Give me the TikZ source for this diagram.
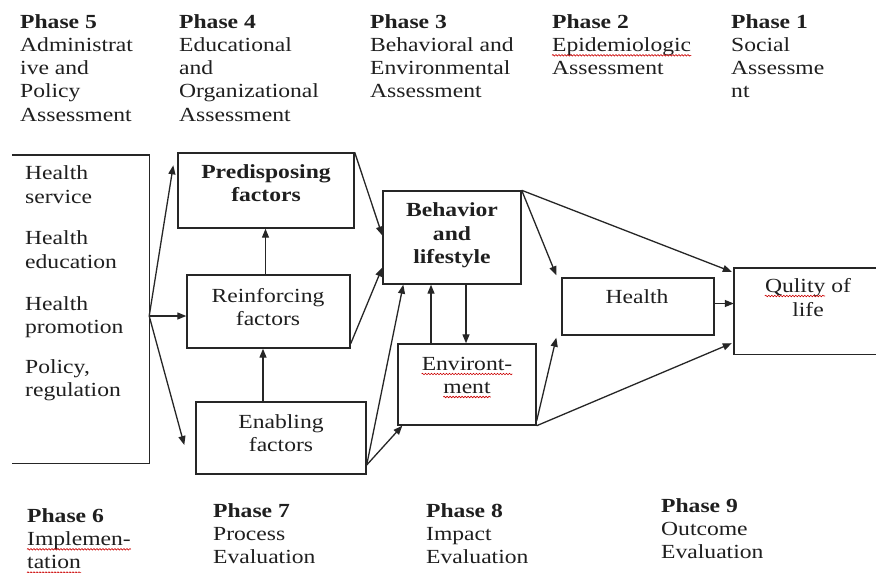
\documentclass[tikz,border=0pt]{standalone}
\usepackage{fontspec}
\setmainfont{Liberation Serif}[FakeStretch=1.18]
\usetikzlibrary{arrows.meta,fit,decorations.pathmorphing}
\newcommand\myfs{\fontsize{20}{23.3}\selectfont}
\begin{document}
\begin{tikzpicture}[x=1pt,y=-1pt,
  font=\myfs,
  bf/.style={font=\myfs\bfseries},
  txt/.style={anchor=base west,inner sep=0pt,text=black!88},
  ctxt/.style={anchor=base,inner sep=0pt,text=black!88},
  box/.style={draw=black!85,line width=1.4pt,inner sep=0pt},
  arr/.style={draw=black!85,line width=1.3pt,-{Triangle[length=9pt,width=7pt]}},
  squig/.style={draw=red!80!black,line width=0.6pt,decorate,decoration={snake,amplitude=0.8pt,segment length=3pt}}]
\useasboundingbox (0,0) rectangle (876,573);
\fill[white] (0,0) rectangle (876,573);
% ---- top phase texts
\node[txt,bf] (p5) at (20,28) {Phase 5};
\foreach \l [count=\i] in {Administrat,ive and,Policy,Assessment}
  \node[txt] (p5-\i) at (20,28+23.3*\i) {\l};
\node[txt,bf] (p4) at (179,28) {Phase 4};
\foreach \l [count=\i] in {Educational,and,Organizational,Assessment}
  \node[txt] (p4-\i) at (179,28+23.3*\i) {\l};
\node[txt,bf] (p3) at (370,28) {Phase 3};
\foreach \l [count=\i] in {Behavioral and,Environmental,Assessment}
  \node[txt] (p3-\i) at (370,28+23.3*\i) {\l};
\node[txt,bf] (p2) at (552,28) {Phase 2};
\foreach \l [count=\i] in {Epidemiologic,Assessment}
  \node[txt] (p2-\i) at (552,28+23.3*\i) {\l};
\node[txt,bf] (p1) at (731,28) {Phase 1};
\foreach \l [count=\i] in {Social,Assessme,nt}
  \node[txt] (p1-\i) at (731,28+23.3*\i) {\l};
% ---- bottom phase texts
\node[txt,bf] (p6) at (27,522) {Phase 6};
\foreach \l [count=\i] in {Implemen-,tation}
  \node[txt] (p6-\i) at (27,522+23.3*\i) {\l};
\node[txt,bf] (p7) at (213,517) {Phase 7};
\foreach \l [count=\i] in {Process,Evaluation}
  \node[txt] (p7-\i) at (213,517+23.3*\i) {\l};
\node[txt,bf] (p8) at (426,517) {Phase 8};
\foreach \l [count=\i] in {Impact,Evaluation}
  \node[txt] (p8-\i) at (426,517+23.3*\i) {\l};
\node[txt,bf] (p9) at (661,512) {Phase 9};
\foreach \l [count=\i] in {Outcome,Evaluation}
  \node[txt] (p9-\i) at (661,512+23.3*\i) {\l};
% ---- boxes
\node[inner sep=0pt,fit={(12,155) (149,463)}] (lb) {};
\draw[draw=black!85,line width=1.4pt] (lb.north west) -- (lb.north east) -- (lb.south east) -- (lb.south west);
\node[box,fit={(178,153) (354,228)}] (pre) {};
\node[box,fit={(187,275) (350,348)}] (rein) {};
\node[box,fit={(196,402) (366,474)}] (ena) {};
\node[box,fit={(383,191) (521,284)}] (beh) {};
\node[box,fit={(398,344) (536,425)}] (env) {};
\node[box,fit={(562,278) (714,335)}] (hea) {};
\node[inner sep=0pt,fit={(734,268) (876,354)}] (qol) {};
\draw[draw=black!85,line width=1.4pt] (qol.north east) -- (qol.north west) -- (qol.south west) -- (qol.south east);
% ---- box texts
\foreach \l [count=\i] in {Health,service,Health,education,Health,promotion,{Policy,},regulation}
  \node[txt] (lb-\i) at (25,{\i<3?179+24*(\i-1):(\i<5?244+24*(\i-3):(\i<7?310+23*(\i-5):373+23*(\i-7)))}) {\l};
\node[ctxt,bf] (pre-1) at (266,178) {Predisposing};
\node[ctxt,bf] (pre-2) at (266,201) {factors};
\node[ctxt] (rein-1) at (268,302) {Reinforcing};
\node[ctxt] (rein-2) at (268,325) {factors};
\node[ctxt] (ena-1) at (281,428) {Enabling};
\node[ctxt] (ena-2) at (281,451) {factors};
\node[ctxt,bf] (beh-1) at (452,216) {Behavior};
\node[ctxt,bf] (beh-2) at (452,240) {and};
\node[ctxt,bf] (beh-3) at (452,263) {lifestyle};
\node[ctxt] (env-1) at (467,370) {Environt-};
\node[ctxt] (env-2) at (467,393) {ment};
\node[ctxt] (hea-1) at (637,303) {Health};
\node[ctxt] (qol-1) at (808,292) {Qulity of};
\node[ctxt] (qol-2) at (808,316) {life};
% ---- spell-check squiggles
\draw[squig] ([yshift=-4pt]p2-1.base west) -- ([yshift=-4pt]p2-1.base east);
\draw[squig] ([yshift=-4pt]p6-1.base west) -- ([yshift=-4pt]p6-1.base east);
\draw[squig] ([yshift=-4pt]p6-2.base west) -- ([yshift=-4pt]p6-2.base east);
\draw[squig] ([yshift=-4pt]env-1.base west) -- ([yshift=-4pt]env-1.base east);
\draw[squig] ([yshift=-4pt]env-2.base west) -- ([yshift=-4pt]env-2.base east);
\draw[squig] ([yshift=-4pt]qol-1.base west) -- ([yshift=-4pt,xshift=-26pt]qol-1.base east);
% ---- connectors
\coordinate (fork) at (lb.east |- 0,316);
\draw[arr] (fork) -- ([xshift=-4pt,yshift=-13pt]pre.north west);
\draw[arr] (fork) -- (fork -| rein.west);
\draw[arr] (fork) -- ([xshift=-11pt,yshift=-7pt]ena.west);
\draw[arr] ([xshift=-3pt]rein.north) -- ([xshift=-3pt]rein.north |- pre.south);
\draw[arr] ([xshift=-18pt]ena.north) -- ([xshift=-18pt]ena.north |- rein.south);
\draw[arr] (pre.north east) -- ([yshift=2pt]beh.west);
\draw[arr] ([yshift=5pt]rein.south east) -- ([yshift=-30pt]beh.west);
\coordinate (es) at ([yshift=-27pt]ena.east);
\draw[arr] (es) -- ([xshift=21pt]beh.south west);
\draw[arr] (es) -- ([xshift=5pt]env.south west);
\draw[arr] ([xshift=-21pt]beh.south |- env.north) -- ([xshift=-21pt]beh.south);
\draw[arr] ([xshift=14pt]beh.south) -- ([xshift=14pt]beh.south |- env.north);
\draw[arr] (beh.north east) -- ([xshift=-5pt,yshift=2pt]hea.north west);
\draw[arr] (beh.north east) -- ([xshift=-2pt,yshift=-4pt]qol.north west);
\draw[arr] ([yshift=3pt]hea.east) -- ([yshift=3pt]hea.east -| qol.west);
\draw[arr] ([yshift=5pt]env.south east) -- ([xshift=-5pt,yshift=-2pt]hea.south west);
\draw[arr] (env.south east) -- ([xshift=-2pt,yshift=11pt]qol.south west);
\end{tikzpicture}
\end{document}
